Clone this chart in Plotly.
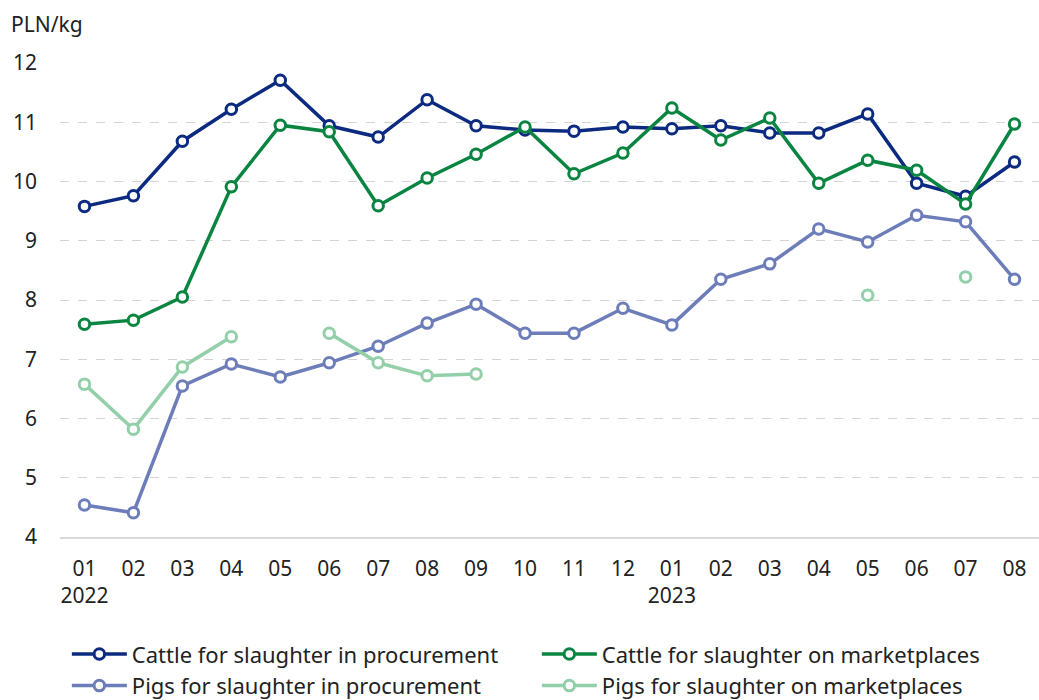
import plotly.graph_objects as go

months = ["01", "02", "03", "04", "05", "06", "07", "08", "09", "10", "11", "12",
          "01", "02", "03", "04", "05", "06", "07", "08"]
tick_labels = ["01<br>2022", "02", "03", "04", "05", "06", "07", "08", "09", "10", "11", "12",
               "01<br>2023", "02", "03", "04", "05", "06", "07", "08"]

cattle_procurement = [9.58, 9.76, 10.68, 11.22, 11.71, 10.94, 10.75, 11.38, 10.94, 10.87,
                      10.85, 10.92, 10.89, 10.94, 10.82, 10.82, 11.14, 9.97, 9.75, 10.33]
cattle_marketplaces = [7.59, 7.66, 8.05, 9.91, 10.95, 10.84, 9.59, 10.06, 10.46, 10.92,
                       10.13, 10.48, 11.24, 10.70, 11.07, 9.97, 10.36, 10.19, 9.62, 10.97]
pigs_procurement = [4.54, 4.41, 6.55, 6.92, 6.70, 6.94, 7.22, 7.61, 7.93, 7.44,
                    7.44, 7.86, 7.58, 8.35, 8.61, 9.20, 8.98, 9.43, 9.32, 8.35]
pigs_marketplaces = [6.58, 5.82, 6.87, 7.38, None, 7.44, 6.94, 6.72, 6.75, None,
                     None, None, None, None, None, None, 8.08, None, 8.39, None]

series = [
    ("Cattle for slaughter in procurement", cattle_procurement, "#0B2A80"),
    ("Cattle for slaughter on marketplaces", cattle_marketplaces, "#0A8541"),
    ("Pigs for slaughter in procurement", pigs_procurement, "#6C7DB9"),
    ("Pigs for slaughter on marketplaces", pigs_marketplaces, "#93D0AA"),
]

x = list(range(len(months)))
fig = go.Figure()
for name, vals, color in series:
    fig.add_trace(go.Scatter(
        x=x, y=vals, name=name, mode="lines+markers",
        line=dict(color=color, width=3.5),
        marker=dict(symbol="circle", size=10.5, color="white",
                    line=dict(color=color, width=3)),
        connectgaps=False,
    ))

font_family = "Noto Sans, Open Sans, sans-serif"
fs = 21
fig.update_layout(
    width=1039, height=700,
    margin=dict(l=60, r=0, t=63, b=163, autoexpand=False),
    paper_bgcolor="white", plot_bgcolor="white",
    font=dict(family=font_family, size=fs, color="#222222"),
    showlegend=True,
    legend=dict(orientation="h", x=0.007, xanchor="left", y=-0.203, yanchor="top",
                entrywidth=400, itemwidth=55, font=dict(size=22),
                tracegroupgap=0, traceorder="normal"),
    xaxis=dict(range=[-0.5, 19.5], tickmode="array", tickvals=x, ticktext=tick_labels,
               showgrid=False, showline=True, linecolor="#d9d9d9", linewidth=1.5,
               ticks="", ticklabelstandoff=12, zeroline=False, fixedrange=True,
               automargin=False),
    yaxis=dict(range=[4, 12], dtick=1, showgrid=True, gridcolor="#d4d4d4",
               griddash="dash", gridwidth=1, zeroline=False, showline=False,
               ticks="", ticklabelstandoff=22, fixedrange=True, automargin=False),
)
fig.add_annotation(text="PLN/kg", xref="paper", yref="paper", x=-0.052, y=1.083,
                   xanchor="left", yanchor="middle", showarrow=False,
                   font=dict(size=fs, color="#222222"))

fig.write_html("out.html", config={"displayModeBar": False},
               post_script="document.body.style.margin='0';document.body.style.padding='0';")
